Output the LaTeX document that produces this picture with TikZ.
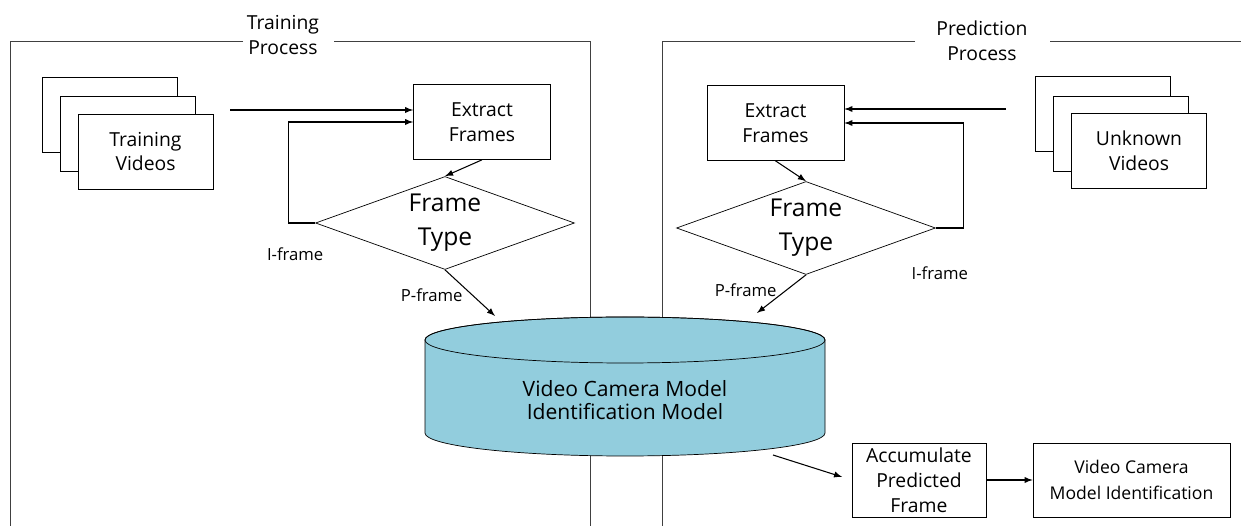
\documentclass[tikz,border=0pt]{standalone}
\usepackage{fontspec}
\setmainfont{Open Sans}
\usetikzlibrary{shapes.geometric}
\definecolor{modelblue}{RGB}{146,205,221}

\begin{document}
\begin{tikzpicture}[x=0.02cm, y=-0.02cm,
	font=\fontsize{11}{14.2}\selectfont,
	box/.style={rectangle, draw, fill=white, align=center, inner sep=1pt},
	video/.style={box, minimum width=2.7cm, minimum height=1.5cm},
	extract/.style={box, minimum width=2.74cm, minimum height=1.5cm},
	decision/.style={diamond, draw, aspect=2.785, inner sep=0pt, minimum width=5.18cm, minimum height=1.86cm, align=center, font=\fontsize{14}{19.3}\selectfont},
	title/.style={align=center, inner sep=0pt},
	lbl/.style={font=\fontsize{9.5}{11}\selectfont},
	frame/.style={draw=black!75, line width=0.5pt}]

	\useasboundingbox (0,0) rectangle (1241,526);

	% process frames
	\draw[frame] (243,41) -- (10,41) -- (10,526);
	\draw[frame] (334,41) -- (590,41) -- (590,526);
	\draw[frame] (915,41) -- (662,41) -- (662,526);
	\draw[frame] (1050,41) -- (1241,41);
	\node (trTitle) [title] at (283,35) {Training\\Process};
	\node (prTitle) [title] at (982,41) {Prediction\\Process};

	% model
	\path[draw, fill=modelblue] (425,340) -- (425,433)
		arc[start angle=180, end angle=0, x radius=200, y radius=23]
		-- (825,340) arc[start angle=0, end angle=-180, x radius=200, y radius=23] -- cycle;
	\draw (625,340) ellipse[x radius=200, y radius=23];
	\node (model) [align=center, font=\fontsize{12}{13.5}\selectfont] at (625,400) {Video Camera Model\\Identification Model};
	\coordinate (mInT) at (495,316);
	\coordinate (mInP) at (757,313);
	\coordinate (mOut) at (773,455);

	% training side
	\node (tvBack) [video] at (109.5,114.5) {};
	\node (tvMid) [video] at (127.5,133.5) {};
	\node (tvFront) [video] at (145.5,151.5) {Training\\Videos};
	\node (teF) [extract] at (482,122) {Extract\\Frames};
	\node (tdF) [decision] at (445,223) {Frame\\Type};
	\coordinate (tvOut) at (230,110);

	% prediction side
	\node (uvBack) [video] at (1102.5,114) {};
	\node (uvMid) [video] at (1121,133.5) {};
	\node (uvFront) [video] at (1139,151) {Unknown\\Videos};
	\node (teP) [extract] at (775.5,123) {Extract\\Frames};
	\node (tdP) [decision] at (806,228) {Frame\\Type};
	\coordinate (uvOut) at (1006,109);

	\node (acc) [box, minimum width=2.68cm, minimum height=1.48cm] at (919,480) {Accumulate\\Predicted\\Frame};
	\node (vc) [box, minimum width=3.94cm, minimum height=1.48cm, font=\fontsize{10}{15}\selectfont] at (1131.5,480) {Video Camera\\Model Identification};

	\path[line width=0.6pt, -latex]
	(tvOut) edge (tvOut -| teF.west)
	(teF.south) edge (tdF.north)
	(tdF.south) edge node[lbl, pos=0.55, left=2pt] {P-frame} (mInT)
	(uvOut) edge (uvOut -| teP.east)
	(teP.south) edge (tdP.north)
	(tdP.south) edge node[lbl, pos=0.4, left=2pt] {P-frame} (mInP)
	(mOut) edge[shorten >=0.2cm] (acc.west)
	(acc.east) edge (vc.west);

	\draw[line width=0.6pt, -latex] (tdF.west) -- ++(-27,0) node[lbl, xshift=0.14cm, yshift=-0.62cm] {I-frame} |- (teF.west);
	\draw[line width=0.6pt, -latex] (tdP.east) -- ++(28,0) node[lbl, xshift=-0.48cm, yshift=-0.9cm] {I-frame} |- (teP.east);

\end{tikzpicture}
\end{document}
